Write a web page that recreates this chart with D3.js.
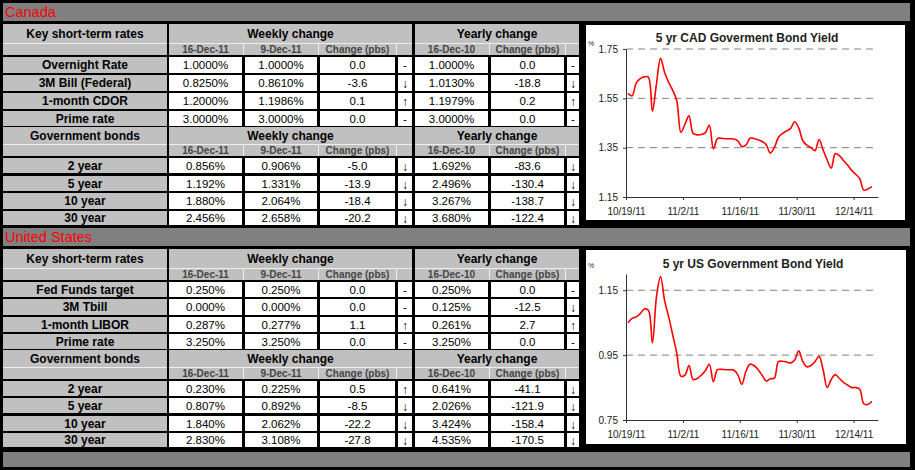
<!DOCTYPE html>
<html><head><meta charset="utf-8">
<script src="https://cdn.jsdelivr.net/npm/d3@7/dist/d3.min.js"></script>
<style>
body{margin:0;background:#000;}
svg{display:block;font-family:Arial,"Liberation Sans",sans-serif;}
</style>
</head><body>
<svg id="c" width="915" height="470"></svg>
<script>
// ---------------- DATA ----------------
const caKeyLabels = ["Overnight Rate","3M Bill (Federal)","1-month CDOR","Prime rate"];
const caKeyNow    = [1.0000, 0.8250, 1.2000, 3.0000];
const caKeyWeek   = [1.0000, 0.8610, 1.1986, 3.0000];
const caKeyWChg   = [0.0, -3.6, 0.1, 0.0];
const caKeyYear   = [1.0000, 1.0130, 1.1979, 3.0000];
const caKeyYChg   = [0.0, -18.8, 0.2, 0.0];

const bondLabels  = ["2 year","5 year","10 year","30 year"];
const caBondNow   = [0.856, 1.192, 1.880, 2.456];
const caBondWeek  = [0.906, 1.331, 2.064, 2.658];
const caBondWChg  = [-5.0, -13.9, -18.4, -20.2];
const caBondYear  = [1.692, 2.496, 3.267, 3.680];
const caBondYChg  = [-83.6, -130.4, -138.7, -122.4];

const usKeyLabels = ["Fed Funds target","3M Tbill","1-month LIBOR","Prime rate"];
const usKeyNow    = [0.250, 0.000, 0.287, 3.250];
const usKeyWeek   = [0.250, 0.000, 0.277, 3.250];
const usKeyWChg   = [0.0, 0.0, 1.1, 0.0];
const usKeyYear   = [0.250, 0.125, 0.261, 3.250];
const usKeyYChg   = [0.0, -12.5, 2.7, 0.0];

const usBondNow   = [0.230, 0.807, 1.840, 2.830];
const usBondWeek  = [0.225, 0.892, 2.062, 3.108];
const usBondWChg  = [0.5, -8.5, -22.2, -27.8];
const usBondYear  = [0.641, 2.026, 3.424, 4.535];
const usBondYChg  = [-41.1, -121.9, -158.4, -170.5];

const subHeads    = ["16-Dec-11","9-Dec-11","Change (pbs)","","16-Dec-10","Change (pbs)",""];

const chartStart  = "2011-10-19";
const chartEnd    = "2011-12-20";
const xTickDates  = ["2011-10-19","2011-11-02","2011-11-16","2011-11-30","2011-12-14"];
const xTickLabels = ["10/19/11","11/2/11","11/16/11","11/30/11","12/14/11"];

// daily closes starting 10/19/11
const cadYield = [1.570,1.560,1.612,1.630,1.637,1.636,1.498,1.610,1.712,1.655,
                  1.615,1.582,1.540,1.412,1.445,1.479,1.408,1.402,1.403,1.410,
                  1.441,1.345,1.387,1.388,1.386,1.386,1.385,1.378,1.355,1.360,
                  1.388,1.387,1.382,1.375,1.362,1.328,1.350,1.392,1.408,1.418,
                  1.428,1.455,1.430,1.378,1.360,1.350,1.338,1.383,1.340,1.300,
                  1.267,1.326,1.318,1.298,1.280,1.258,1.242,1.225,1.178,1.182,1.192];
const usYield  = [1.050,1.063,1.068,1.078,1.092,1.088,0.988,1.130,1.192,1.118,
                  1.068,1.012,0.955,0.885,0.888,0.918,0.875,0.878,0.888,0.902,
                  0.922,0.868,0.905,0.906,0.905,0.905,0.904,0.890,0.860,0.900,
                  0.922,0.918,0.905,0.888,0.870,0.877,0.879,0.930,0.931,0.929,
                  0.926,0.935,0.963,0.930,0.914,0.918,0.930,0.946,0.905,0.850,
                  0.875,0.890,0.878,0.866,0.858,0.850,0.850,0.845,0.800,0.798,0.808];
const cadTicks = [1.15,1.35,1.55,1.75];
const usTicks  = [0.75,0.95,1.15];

// ---------------- DRAW ----------------
const svg = d3.select("#c");
svg.append("rect").attr("width",915).attr("height",470).attr("fill","#000");

const loc = d3.formatLocale({decimal:".",thousands:",",grouping:[3],currency:["$",""],minus:"-"});
const GRAY="#c0c0c0", BAR="#808080", SEP="#eeeeee";
const COLS=[[3,167],[169,242],[245,317],[320,395],[398,412],[415,488],[491,564],[567,579]];

function rect(x0,y0,x1,y1,fill){
  svg.append("rect").attr("x",x0).attr("y",y0).attr("width",x1-x0).attr("height",y1-y0).attr("fill",fill);
}
function txt(x,y,s,o){
  o=o||{};
  svg.append("text").attr("x",x).attr("y",y).text(s)
    .attr("text-anchor",o.anchor||"middle")
    .attr("font-size",o.size||11.5)
    .attr("font-weight",o.weight||"normal")
    .attr("fill",o.fill||"#000");
}
const arrow = v => v>0 ? "\u2191" : (v<0 ? "\u2193" : "-");

function block(hdr, sub, rows, title, labels, now, week, wchg, year, ychg, dec){
  const fmt = loc.format("."+dec+"f");
  const f1 = loc.format(".1f");
  [[COLS[0][0],COLS[0][1]],[COLS[1][0],COLS[4][1]],[COLS[5][0],COLS[7][1]]].forEach(([a,b])=>rect(a,hdr[0],b,sub[1],SEP));
  rect(COLS[0][0],hdr[0],COLS[0][1],hdr[1],GRAY);
  rect(COLS[1][0],hdr[0],COLS[4][1],hdr[1],GRAY);
  rect(COLS[5][0],hdr[0],COLS[7][1],hdr[1],GRAY);
  const hm=(hdr[0]+hdr[1])/2+4.5;
  txt((COLS[0][0]+COLS[0][1])/2,hm,title,{weight:"bold",size:12});
  txt((COLS[1][0]+COLS[4][1])/2,hm,"Weekly change",{weight:"bold",size:12});
  txt((COLS[5][0]+COLS[7][1])/2,hm,"Yearly change",{weight:"bold",size:12});
  COLS.forEach((c,i)=>{
    const l = (i===0||i===1||i===5)?c[0]:c[0]-1;
    const r = (i===0||i===4||i===7)?c[1]:c[1]+1;
    rect(l,sub[0],r,sub[1],GRAY);
    if(i>0 && subHeads[i-1]) txt((c[0]+c[1])/2,(sub[0]+sub[1])/2+3.5,subHeads[i-1],{weight:"bold",size:10,fill:"#444"});
  });
  rows.forEach((r,k)=>{
    const m=(r[0]+r[1])/2+4.3;
    rect(COLS[0][0],r[0],COLS[0][1],r[1],GRAY);
    txt((COLS[0][0]+COLS[0][1])/2,m,labels[k],{weight:"bold",size:12});
    const vals=[fmt(now[k])+"%",fmt(week[k])+"%",f1(wchg[k]),arrow(wchg[k]),fmt(year[k])+"%",f1(ychg[k]),arrow(ychg[k])];
    vals.forEach((v,j)=>{
      const c=COLS[j+1];
      rect(c[0],r[0],c[1],r[1],"#fff");
      const isArrow=(j===3||j===6)&&v!=="-";
      txt((c[0]+c[1])/2,m+(isArrow?1:0),v,{size:isArrow?12:11.5});
    });
  });
}

function section(name, L, d){
  rect(3,L.title[0],910,L.title[1],BAR);
  txt(5,L.title[1]-4,name,{anchor:"start",size:14.5,fill:"#ff0000"});
  block(L.hdr1,L.sub1,L.rows1,"Key short-term rates",d.kl,d.kn,d.kw,d.kwc,d.ky,d.kyc,d.kdec);
  block(L.hdr2,L.sub2,L.rows2,"Government bonds",bondLabels,d.bn,d.bw,d.bwc,d.by,d.byc,3);
}

section("Canada",{
  title:[3,21], hdr1:[24,43], sub1:[44,55], rows1:[[57,73],[75,91],[93,109],[111,126]],
  hdr2:[127,144], sub2:[145,156], rows2:[[158,173],[176,191],[193,209],[211,225]]
},{kl:caKeyLabels,kn:caKeyNow,kw:caKeyWeek,kwc:caKeyWChg,ky:caKeyYear,kyc:caKeyYChg,kdec:4,
   bn:caBondNow,bw:caBondWeek,bwc:caBondWChg,by:caBondYear,byc:caBondYChg});

section("United States",{
  title:[228,246], hdr1:[249,268], sub1:[269,280], rows1:[[282,297],[299,315],[317,332],[334,349]],
  hdr2:[350,367], sub2:[368,379], rows2:[[381,396],[398,413],[416,431],[433,447]]
},{kl:usKeyLabels,kn:usKeyNow,kw:usKeyWeek,kwc:usKeyWChg,ky:usKeyYear,kyc:usKeyYChg,kdec:3,
   bn:usBondNow,bw:usBondWeek,bwc:usBondWChg,by:usBondYear,byc:usBondYChg});

rect(3,452,910,467,BAR);

// ---------------- CHARTS ----------------
const parse = d3.timeParse("%Y-%m-%d");
function chart(cfg){
  rect(cfg.box[0],cfg.box[1],cfg.box[2],cfg.box[3],"#fff");
  const g=svg.append("g");
  const x=d3.scaleTime().domain([parse(chartStart),parse(chartEnd)]).range([626,878]);
  const y=d3.scaleLinear().domain(cfg.domain).range(cfg.yRange);
  g.selectAll("line.grid").data(cfg.ticks.slice(1)).join("line")
    .attr("x1",626).attr("x2",878).attr("y1",d=>y(d)).attr("y2",d=>y(d))
    .attr("stroke","#808080").attr("stroke-width",1).attr("stroke-dasharray","7,5");
  const ya=g.append("g").attr("transform","translate(626,0)")
    .call(d3.axisLeft(y).tickValues(cfg.ticks).tickFormat(d3.format(".2f")).tickSize(3).tickSizeOuter(0).tickPadding(5));
  const xa=g.append("g").attr("transform",`translate(0,${cfg.yRange[0]})`)
    .call(d3.axisBottom(x).tickValues(xTickDates.map(parse)).tickFormat((d,i)=>xTickLabels[i]).tickSize(3).tickSizeOuter(0).tickPadding(8));
  [ya,xa].forEach(a=>{
    a.select(".domain").attr("stroke","#333");
    a.selectAll(".tick line").attr("stroke","#333");
    a.selectAll("text").attr("font-size",10).attr("fill","#222").attr("font-family","Arial, 'Liberation Sans', sans-serif");
  });
  const pts=cfg.values.map((v,i)=>[d3.timeHour.offset(d3.timeDay.offset(parse(chartStart),i),12),v]);
  g.append("path").datum(pts)
    .attr("d",d3.line().x(d=>x(d[0])).y(d=>y(d[1])).curve(d3.curveCatmullRom.alpha(0.5)))
    .attr("fill","none").attr("stroke","#ff0000").attr("stroke-width",1.6);
  g.append("text").attr("x",cfg.titleX).attr("y",cfg.titleY).attr("text-anchor","middle")
    .attr("font-size",12).attr("font-weight","bold").attr("fill","#222").text(cfg.title);
  g.append("text").attr("x",588).attr("y",cfg.pctY).attr("font-size",7).attr("fill","#222").text("%");
}
chart({box:[586,25,905,220],domain:[1.15,1.75],yRange:[197,49],ticks:cadTicks,values:cadYield,
  title:"5 yr CAD Goverment Bond Yield",titleX:747,titleY:41.5,pctY:46});
chart({box:[586,250,906,444],domain:[0.75,1.20],yRange:[420,274],ticks:usTicks,values:usYield,
  title:"5 yr US Government Bond Yield",titleX:753,titleY:267.5,pctY:268});
</script>
</body></html>
